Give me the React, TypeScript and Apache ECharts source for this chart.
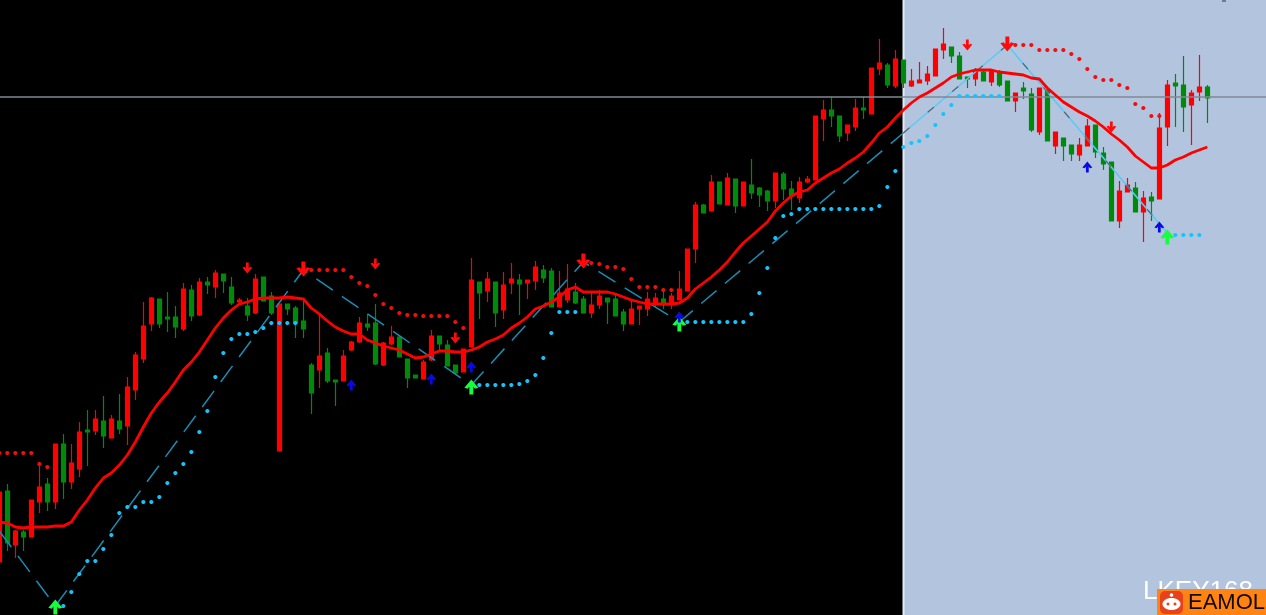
import React, { useEffect, useRef } from "react";
import * as echarts from "echarts";

const slots: string[] = Array.from({ length: 159 }, (_, i) => String(i));

const opens = [53,124,70,83,78,113,131,113,171,133,146,185,184,194,177,194,189,225,256,291,316,298,298,286,325,300,333,328,341,328,313,309,302,338,319,164,311,307,294,250,245,262,235,234,265,273,291,292,250,271,278,256,240,236,255,279,270,250,243,268,333,324,333,305,332,335,332,334,345,344,308,315,323,316,302,310,317,316,303,291,306,306,312,316,310,315,324,366,410,404,433,410,436,409,430,427,424,414,441,426,417,433,435,496,505,499,482,488,507,501,546,550,529,555,529,532,534,539,565,568,559,538,536,543,533,543,534,514,527,521,483,525,469,477,470,460,469,490,462,453,394,423,427,403,418,416,488,532,530,510,523,528];
const closes = [123,72,84,78,115,128,113,171,133,152,183,183,196,179,196,186,228,260,289,317,291,296,288,326,299,333,330,342,334,312,315,300,336,314,302,311,306,292,286,222,259,234,233,259,273,292,288,251,272,278,258,237,237,253,279,271,249,242,266,335,322,336,302,330,336,331,335,348,337,308,322,326,312,302,310,319,313,299,291,306,309,316,317,312,319,326,366,410,402,433,411,437,409,433,422,420,414,442,426,419,433,436,499,505,499,479,490,507,505,547,552,530,556,532,534,535,541,566,571,559,536,536,544,534,544,530,514,522,524,485,527,474,483,469,461,470,489,463,451,394,424,430,403,417,414,487,530,529,508,522,528,517];
const lows = [53,64,57,64,78,102,104,106,116,126,138,149,180,167,177,181,170,215,252,284,287,283,277,284,294,299,321,317,322,310,311,294,301,314,300,164,300,277,277,201,227,232,209,234,264,272,284,250,249,270,258,227,237,236,254,265,249,241,243,268,296,313,288,296,321,300,316,325,332,308,308,312,311,302,297,306,291,299,284,291,290,299,308,306,306,315,324,352,402,404,411,410,402,409,416,408,404,407,415,405,412,432,435,474,488,473,474,484,496,501,540,527,527,527,528,532,530,539,556,552,536,527,529,534,529,528,514,503,516,483,480,474,461,454,454,454,469,457,445,394,387,423,403,373,394,416,469,488,483,470,514,492];
const highs = [123,131,85,85,115,153,137,171,181,171,193,205,205,219,200,221,238,263,313,318,316,323,309,332,330,337,338,345,341,338,317,317,341,338,323,311,311,309,315,252,300,267,235,265,274,298,301,311,273,289,279,256,240,255,285,279,275,250,266,357,333,343,333,343,352,341,335,354,350,347,344,351,332,319,322,325,317,320,306,315,309,323,322,323,322,344,366,413,411,440,433,442,436,433,456,428,425,442,443,434,438,439,499,515,518,499,490,516,518,547,576,552,565,555,546,553,549,566,587,568,563,538,547,545,545,545,534,522,533,527,527,527,483,477,470,477,496,490,468,453,434,437,433,424,423,502,535,541,559,525,560,530];

const movingAverage = [93,92,88,87,88,88,88,89,89,93,105,115,127,137,142,150,160,173,188,202,213,222,233,245,253,263,275,287,297,305,311,313,316,317,317,317,318,317,316,307,301,294,288,284,281,281,275,272,269,267,265,261,257,258,261,264,264,263,263,265,268,273,276,280,287,292,298,306,309,313,318,325,328,323,323,323,323,321,318,315,313,311,311,311,311,312,317,326,332,338,345,353,363,372,379,386,393,404,412,419,423,425,432,437,442,446,452,457,463,472,482,488,497,505,512,518,522,527,532,538,541,543,545,545,545,543,542,541,540,537,536,527,520,513,508,503,499,494,488,481,475,468,459,453,447,447,450,455,458,462,465,468];

const supportDots: number[][] = [[8,9],[9,23],[10,41],[11,54],[12,54],[13,66],[14,80],[15,102],[16,108],[17,108],[18,113],[19,113],[20,118],[21,132],[22,142],[23,151],[24,163],[25,183],[26,204],[27,238],[28,262],[29,276],[30,281],[31,281],[32,283],[33,287],[34,292],[35,292],[36,292],[37,292],
[59,230],[60,230],[61,230],[62,230],[63,230],[64,230],[65,231],[66,234],[67,240],[68,257],[69,282],[70,303],[71,303],[72,303],
[85,293],[86,293],[87,293],[88,293],[89,293],[90,293],[91,293],[92,293],[93,293],[94,301],[95,322],[96,347],[97,377],[98,399],[99,401],[100,406],[101,406],[102,406],[103,406],[104,406],[105,406],[106,406],[107,406],[108,406],[109,406],[110,409],[111,428],[112,444],[113,468],[114,472],[115,474],[116,479],[117,490],[118,501],[119,510],[120,519],[121,519],[122,519],[123,519],[124,519],[125,519],
[146,380],[147,380],[148,380],[149,380],[150,380]];

const resistanceDots: number[][] = [[0,162],[1,162],[2,162],[3,162],[4,162],[5,151],[6,148],
[38,345],[39,345],[40,345],[41,345],[42,345],[43,345],[44,338],[45,332],[46,329],[47,320],[48,311],[49,307],[50,302],[51,300],[52,300],[53,299],[54,299],[55,299],[56,299],[57,293],[58,287],
[73,353],[74,352],[75,351],[76,348],[77,348],[78,346],[79,336],[80,328],[81,328],[82,328],[83,325],[84,325],
[126,570],[127,570],[128,570],[129,570],[130,565],[131,565],[132,565],[133,565],[134,561],[135,556],[136,546],[137,538],[138,535],[139,535],[140,530],[141,527],[142,511],[143,507],[144,499],[145,499]];

const zigzagDark: number[][] = [[0,84],[7,9],[38,345],[59,230],[73,353],[85,293],[113,482]];
const zigzagPale: number[][] = [[113,482],[126,570],[146,382]];

const majorBuy: number[][] = [[7,8],[59,228],[85,291],[146,378]];
const minorBuy: number[][] = [[44,230],[54,236],[59,248],[85,298],[136,448],[145,388]];
const majorSell: number[][] = [[38,346],[73,354],[126,571]];
const minorSell: number[][] = [[31,347],[47,351],[57,277],[121,570],[139,488]];

const priceLine = 518;

const arrowPath = "path://M50 0 L100 55 L76 62 L64 48 L64 100 L36 100 L36 48 L24 62 L0 55 Z";

export default function App() {
  const ref = useRef<HTMLDivElement>(null);
  useEffect(() => {
    document.body.style.margin = "0";
    document.body.style.background = "#000";
    const chart = echarts.init(ref.current!, undefined, { renderer: "svg" });
    const arrows = (name: string, data: number[][], color: string, size: number[], rotate: number) => ({
      name, type: "scatter", data, symbol: arrowPath, symbolSize: size, symbolRotate: rotate,
      itemStyle: { color, opacity: 1 }, z: 9, silent: true,
    });
    chart.setOption({
      animation: false,
      backgroundColor: "#000000",
      grid: { left: -4.67, top: 0, width: 1272, height: 615, containLabel: false, outerBoundsMode: "none" },
      xAxis: { type: "category", data: slots, show: false, boundaryGap: true },
      yAxis: { type: "value", min: 0, max: 615, show: false, splitLine: { show: false } },
      tooltip: { show: false },
      legend: { show: false },
      graphic: [
        { type: "rect", z: 0, silent: true, shape: { x: 903, y: 0, width: 363, height: 615 }, style: { fill: "#b3c5de" } },
        { type: "rect", z: 0, silent: true, shape: { x: 902.5, y: 0, width: 2, height: 615 }, style: { fill: "#e4ebf4" } },
        { type: "rect", z: 1, silent: true, shape: { x: 1222, y: 0, width: 4, height: 2 }, style: { fill: "#6f7b8c" } },
        { type: "text", z: 20, silent: true, x: 1143, y: 577, style: { text: "LKEY168", fill: "#ffffff", font: "26px 'Liberation Sans'" } },
        { type: "rect", z: 21, silent: true, shape: { x: 1157, y: 589, width: 109, height: 26 }, style: { fill: "#ff8414" } },
        { type: "rect", z: 22, silent: true, shape: { x: 1160, y: 591, width: 23, height: 23, r: 5 }, style: { fill: "#e8421c" } },
        { type: "ellipse", z: 23, silent: true, shape: { cx: 1171.5, cy: 604, rx: 9, ry: 6 }, style: { fill: "#ffffff" } },
        { type: "circle", z: 23, silent: true, shape: { cx: 1171.5, cy: 595, r: 1.8 }, style: { fill: "#ffffff" } },
        { type: "circle", z: 24, silent: true, shape: { cx: 1168, cy: 604, r: 1.5 }, style: { fill: "#e8421c" } },
        { type: "circle", z: 24, silent: true, shape: { cx: 1175, cy: 604, r: 1.5 }, style: { fill: "#e8421c" } },
        { type: "text", z: 22, silent: true, x: 1188, y: 590, style: { text: "EAMOL", fill: "#140a04", font: "22px 'Liberation Sans'" } },
      ],
      series: [
        {
          name: "K", type: "candlestick", barWidth: 5, z: 3, silent: true,
          data: opens.map((o, i) => [o, closes[i], lows[i], highs[i]]),
          itemStyle: { color: "#ff0000", color0: "#008a0a", borderColor: "#ff0000", borderColor0: "#008a0a", borderWidth: 1.2 },
          markLine: {
            silent: true, symbol: "none", label: { show: false }, animation: false,
            lineStyle: { color: "#7f8894", width: 1.5, type: "solid" },
            data: [{ yAxis: priceLine }],
          },
        },
        { name: "ZigZag", type: "line", data: zigzagDark, symbol: "none", z: 4, silent: true, lineStyle: { color: "#1a8cb2", width: 1.5, type: [20, 11] } },
        { name: "ZigZag pale", type: "line", data: zigzagPale, symbol: "none", z: 4, silent: true, lineStyle: { color: "#5cc8f5", width: 1.6 } },
        { name: "ZigZag pale dash", type: "line", data: zigzagPale, symbol: "none", z: 5, silent: true, lineStyle: { color: "#5a6068", width: 1.2, type: [8, 24] } },
        { name: "Support", type: "scatter", data: supportDots, symbol: "circle", symbolSize: 4.2, z: 6, silent: true, itemStyle: { color: "#14c4fa", opacity: 1 } },
        { name: "Resistance", type: "scatter", data: resistanceDots, symbol: "circle", symbolSize: 4.2, z: 6, silent: true, itemStyle: { color: "#f50d0d", opacity: 1 } },
        { name: "MA", type: "line", data: movingAverage, symbol: "none", z: 7, silent: true, lineStyle: { color: "#ff0000", width: 2.8 } },
        arrows("Major buy", majorBuy, "#14ff3c", [14, 15], 0),
        arrows("Minor buy", minorBuy, "#0a0ae6", [10, 11], 0),
        arrows("Major sell", majorSell, "#ff0a0a", [14, 15], 180),
        arrows("Minor sell", minorSell, "#ff0a0a", [10, 11], 180),
      ],
    });
    return () => chart.dispose();
  }, []);
  return <div ref={ref} style={{ width: 1266, height: 615, filter: "blur(0.7px)", overflow: "hidden" }} />;
}
